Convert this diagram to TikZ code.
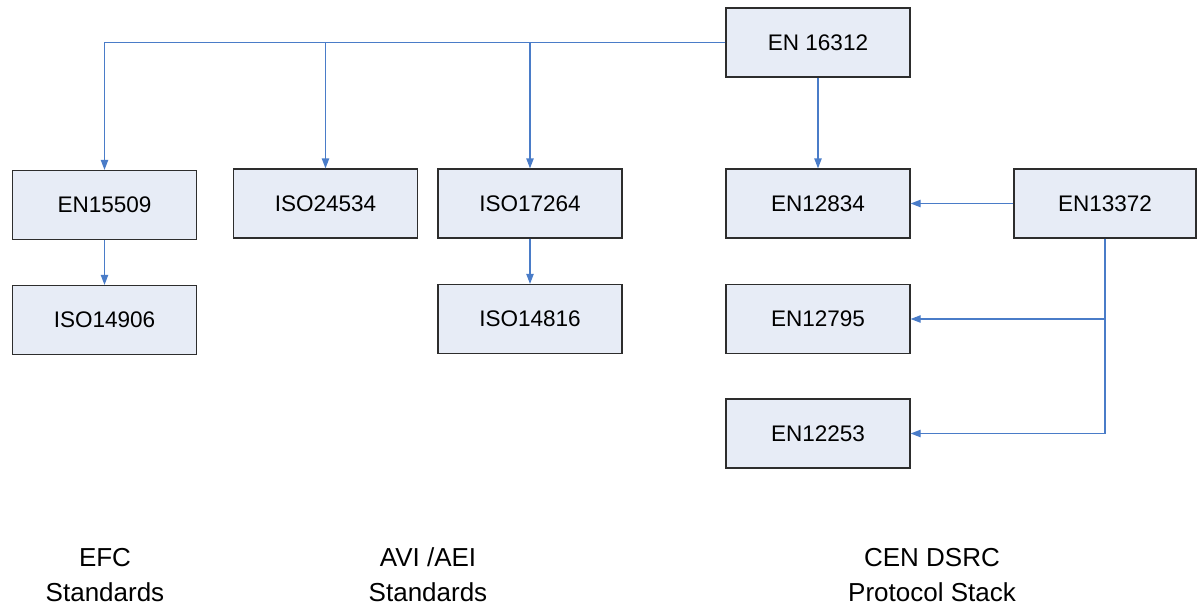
\documentclass[tikz,border=0pt]{standalone}
\usepackage{fontspec}
\setmainfont{Liberation Sans}
\usetikzlibrary{arrows.meta}
\definecolor{boxfill}{RGB}{231,236,246}
\definecolor{linkblue}{RGB}{74,124,200}
\definecolor{boxline}{RGB}{45,45,45}
\begin{document}
\begin{tikzpicture}[x=0.75pt,y=-0.75pt,
  stdbox/.style={draw=boxline, line width=0.9pt, fill=boxfill, minimum width=138pt, minimum height=51.75pt, inner sep=0pt, font=\fontsize{16.9}{20}\selectfont},
  link/.style={draw=linkblue, line width=0.9pt, -{Triangle[length=7.5pt,width=5.5pt]}},
  caption/.style={align=center, font=\fontsize{19.5}{26.3}\selectfont}]
\useasboundingbox (0,0) rectangle (1197,607);
\node[stdbox] (en16312) at (818,42.5) {EN 16312};
\node[stdbox] (en15509) at (104.5,205) {EN15509};
\node[stdbox] (iso14906) at (104.5,320) {ISO14906};
\node[stdbox] (iso24534) at (325.5,203.5) {ISO24534};
\node[stdbox] (iso17264) at (530,203.5) {ISO17264};
\node[stdbox] (iso14816) at (530,319) {ISO14816};
\node[stdbox] (en12834) at (818,203.5) {EN12834};
\node[stdbox] (en12795) at (818,319) {EN12795};
\node[stdbox] (en12253) at (818,433.5) {EN12253};
\node[stdbox, minimum width=136.5pt] (en13372) at (1105,203.5) {EN13372};

\draw[link] (en16312.west) -| (en15509);
\draw[link] (en16312.west -| iso24534) -- (iso24534);
\draw[link] (en16312.west -| iso17264) -- (iso17264);
\draw[link] (en16312) -- (en12834);
\draw[link] (en15509) -- (iso14906);
\draw[link] (iso17264) -- (iso14816);
\draw[link] (en13372) -- (en12834);
\draw[link] (en13372.south) |- (en12253);
\draw[link] (en13372.south |- en12795) -- (en12795);

\node[caption] (efc) at (105,575) {EFC\\Standards};
\node[caption] (avi) at (428,575) {AVI /AEI\\Standards};
\node[caption] (cen) at (932,575) {CEN DSRC\\Protocol Stack};
\end{tikzpicture}
\end{document}
